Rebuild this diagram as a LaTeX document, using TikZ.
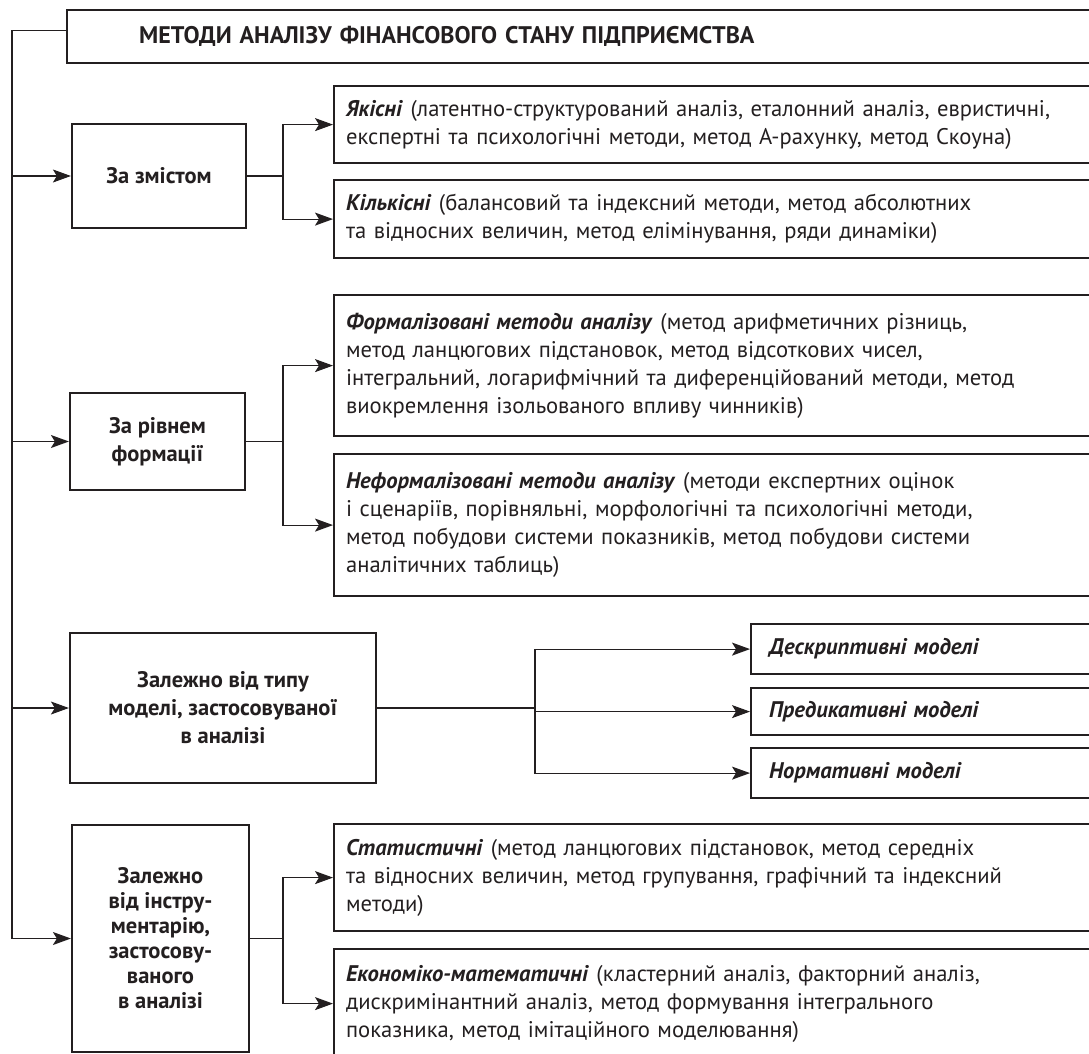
\documentclass[tikz,border=0pt]{standalone}
\usepackage{fontspec}
\setmainfont{PT Sans}
\usetikzlibrary{arrows.meta}
\definecolor{ink}{HTML}{231F20}
\newcommand{\term}[1]{\textbf{\textit{#1}}}
\tikzset{
  box/.style={draw=ink, line width=2.2pt, text=ink, inner sep=0pt},
  catbox/.style={box, align=center, font=\bfseries\fontsize{22.5}{28}\selectfont},
  itembox/.style={box, anchor=north west, align=left, text width=900pt, inner xsep=12pt,
    font=\fontsize{22.6}{28}\selectfont},
  titlebox/.style={box, anchor=north west, align=left, text width=1000pt, inner xsep=72pt,
    minimum height=53pt, font=\bfseries\fontsize{24}{28}\selectfont},
  line/.style={draw=ink, line width=1.1pt},
  arr/.style={line, -{Stealth[length=18pt, width=13pt, inset=4pt]}},
}
\begin{document}
\begin{tikzpicture}[x={(1pt,0)}, y={(0,-1pt)}]
  \useasboundingbox (0,0) rectangle (1089,1054);
  \clip (0,0) rectangle (1089,1054);

  \node[titlebox] (title) at (66,9) {МЕТОДИ АНАЛІЗУ ФІНАНСОВОГО СТАНУ ПІДПРИЄМСТВА};

  % left column
  \node[catbox, minimum width=174pt, minimum height=104pt] (zmist) at (159,176) {За змістом};
  \node[catbox, minimum width=175pt, minimum height=97pt] (rivnem) at (157.5,441.5) {За рівнем\\формації};
  \node[catbox, minimum width=306pt, minimum height=150pt] (model) at (223,708) {Залежно від типу\\моделі, застосовуваної\\в аналізі};
  \node[catbox, minimum width=177pt, minimum height=227pt, font=\bfseries\fontsize{22.5}{25}\selectfont] (instr) at (160.5,938.5) {Залежно\\від інстру-\\ментарію,\\застосову-\\ваного\\в аналізі};

  % right column
  \node[itembox, minimum height=77pt] (yakisni) at (333,85) {\term{Якісні} (латентно-структурований аналіз, еталонний аналіз, евристичні,\\експертні та психологічні методи, метод А-рахунку, метод Скоуна)};
  \node[itembox, minimum height=78pt] (kilkisni) at (333,179) {\term{Кількісні} (балансовий та індексний методи, метод абсолютних\\та відносних величин, метод елімінування, ряди динаміки)};
  \node[itembox, minimum height=141pt] (formal) at (333,294) {\term{Формалізовані методи аналізу} (метод арифметичних різниць,\\метод ланцюгових підстановок, метод відсоткових чисел,\\інтегральний, логарифмічний та диференційований методи, метод\\виокремлення ізольованого впливу чинників)};
  \node[itembox, minimum height=142pt] (neformal) at (333,453) {\term{Неформалізовані методи аналізу} (методи експертних оцінок\\і сценаріїв, порівняльні, морфологічні та психологічні методи,\\метод побудови системи показників, метод побудови системи\\аналітичних таблиць)};
  \node[itembox, minimum height=50pt, inner xsep=18pt] (deskr) at (750,623) {\term{Дескриптивні моделі}};
  \node[itembox, minimum height=47pt, inner xsep=18pt] (predyk) at (750,687) {\term{Предикативні моделі}};
  \node[itembox, minimum height=50pt, inner xsep=18pt] (norm) at (750,747) {\term{Нормативні моделі}};
  \node[itembox, minimum height=107pt] (stat) at (333,823) {\term{Статистичні} (метод ланцюгових підстановок, метод середніх\\та відносних величин, метод групування, графічний та індексний\\методи)};
  \node[itembox, minimum height=109pt] (ekon) at (333,948) {\term{Економіко-математичні} (кластерний аналіз, факторний аналіз,\\дискримінантний аналіз, метод формування інтегрального\\показника, метод імітаційного моделювання)};

  % trunk
  \coordinate (trunk) at (12,0);
  \draw[line] ([yshift=6pt]title.west) -| (trunk |- instr.west);
  \foreach \nm in {zmist,rivnem,model,instr}
    \draw[arr] (trunk |- \nm.west) -- (\nm.west);

  % forks
  \coordinate (f1) at (283,0);
  \coordinate (f3) at (535,0);
  \draw[line] (zmist.east) -- (zmist.east -| f1);
  \draw[arr] (zmist.east -| f1) |- (yakisni.west);
  \draw[arr] (zmist.east -| f1) |- (kilkisni.west);
  \draw[line] (rivnem.east) -- (rivnem.east -| f1);
  \draw[arr] (rivnem.east -| f1) |- (formal.west);
  \draw[arr] (rivnem.east -| f1) |- (neformal.west);
  \draw[line] (model.east) -- (model.east -| f3);
  \foreach \nm in {deskr,predyk,norm}
    \draw[arr] (model.east -| f3) |- (\nm.west);
  \draw[line] (instr.east) -- (instr.east -| f1);
  \draw[arr] (instr.east -| f1) |- (stat.west);
  \draw[arr] (instr.east -| f1) |- (ekon.west);
\end{tikzpicture}
\end{document}
